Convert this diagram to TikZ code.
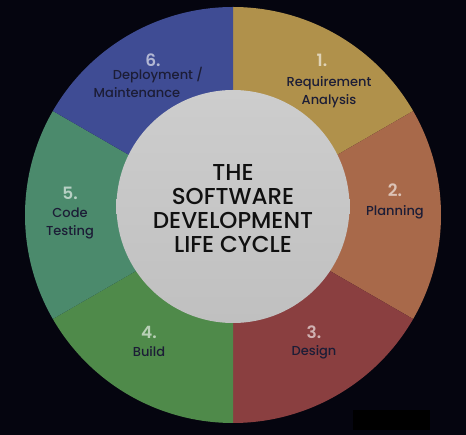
\documentclass[tikz,border=0pt]{standalone}
\usepackage{fontspec}
\setmainfont{Poppins}
\newfontfamily\medfont{Poppins}[UprightFont={* Medium}, BoldFont={* SemiBold}]
\definecolor{bgc}{HTML}{05050F}
\definecolor{cyel}{HTML}{B0914B}
\definecolor{cora}{HTML}{A8694A}
\definecolor{cred}{HTML}{8A3F40}
\definecolor{cgrn}{HTML}{4F8A4A}
\definecolor{ctea}{HTML}{4B8A6C}
\definecolor{cblu}{HTML}{3F4C94}
\definecolor{ctop}{HTML}{CDCDCD}
\definecolor{cbot}{HTML}{C0C0C0}
\definecolor{labc}{HTML}{1C1D36}
\definecolor{titc}{HTML}{101010}
\tikzset{
  numlbl/.style={font=\fontsize{17}{17}\selectfont\medfont\bfseries, text=white, text opacity=0.6, inner sep=0pt},
  steplbl/.style={font=\fontsize{13}{18}\selectfont\medfont, text=labc, inner sep=0pt, align=center},
  titlelbl/.style={font=\fontsize{23}{24}\selectfont\medfont, text=titc, inner sep=0pt, align=center}
}
\begin{document}
\begin{tikzpicture}[x=1pt,y=-1pt]
\fill[bgc] (0,0) rectangle (466,435);
\useasboundingbox (0,0) rectangle (466,435);
\coordinate (O) at (233,215);
\coordinate (I) at (233,206.5);
% segments
\fill[cyel] (O) -- ++(-90:208) arc[start angle=-90,end angle=-30,radius=208] -- cycle;
\fill[cora] (O) -- ++(-30:208) arc[start angle=-30,end angle=30,radius=208] -- cycle;
\fill[cred] (O) -- ++(30:208) arc[start angle=30,end angle=90,radius=208] -- cycle;
\fill[cgrn] (O) -- ++(90:208) arc[start angle=90,end angle=150,radius=208] -- cycle;
\fill[ctea] (O) -- ++(150:208) arc[start angle=150,end angle=210,radius=208] -- cycle;
\fill[cblu] (O) -- ++(210:208) arc[start angle=210,end angle=270,radius=208] -- cycle;
% hub
\shade[top color=ctop, bottom color=cbot] (I) circle[radius=116.5];
\node[titlelbl] (title) at (233,209) {THE\\SOFTWARE\\DEVELOPMENT\\LIFE CYCLE};
% labels
\node[numlbl] (n1) at (322,60) {1.};
\node[steplbl] (s1) at (329,92) {Requirement\\Analysis};
\node[numlbl] (n2) at (395,190) {2.};
\node[steplbl] (s2) at (395,212) {Planning};
\node[numlbl] (n3) at (314,332) {3.};
\node[steplbl] (s3) at (314,352) {Design};
\node[numlbl] (n4) at (149,332) {4.};
\node[steplbl] (s4) at (149,352) {Build};
\node[numlbl] (n5) at (70,193) {5.};
\node[steplbl] (s5) at (70,223) {Code\\Testing};
\node[numlbl] (n6) at (153,60) {6.};
\node[steplbl] (s6a) at (158,75) {Deployment /};
\node[steplbl] (s6b) at (137,93) {Maintenance};
% redaction block
\fill[black] (353,410) rectangle (430,430);
\end{tikzpicture}
\end{document}
